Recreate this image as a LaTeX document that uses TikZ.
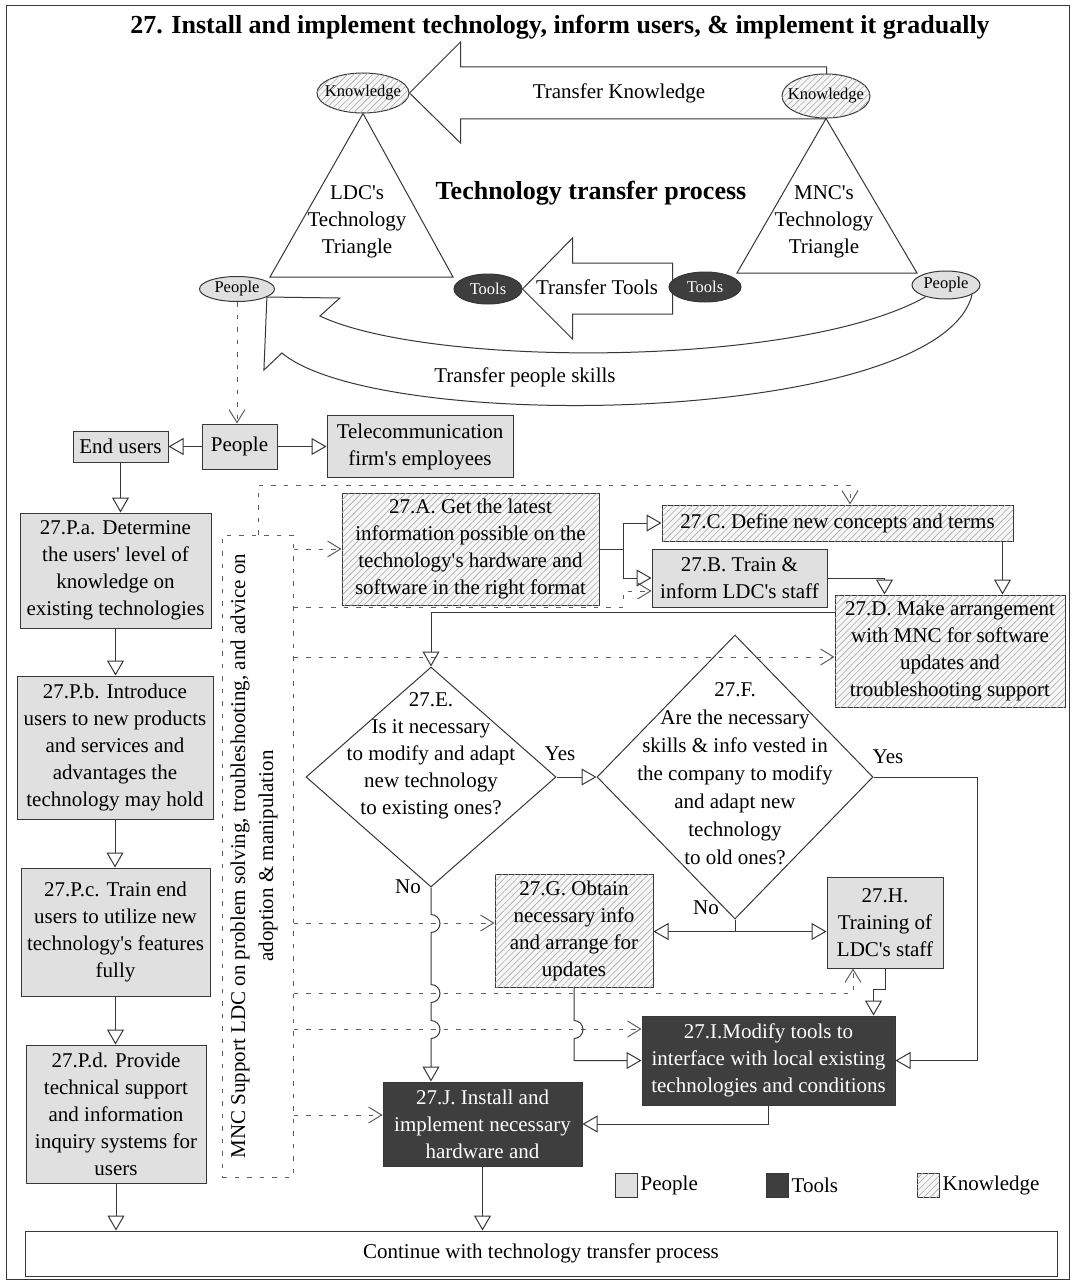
\documentclass[tikz,border=0pt]{standalone}
\usepackage{fontspec}
\setmainfont{Liberation Serif}[Ligatures=TeXOff]
\usetikzlibrary{arrows.meta,shapes.geometric,patterns.meta,calc}
\pgfdeclarelayer{background}
\pgfsetlayers{background,main}

\definecolor{ink}{RGB}{55,55,55}
\definecolor{peoplefill}{RGB}{224,224,224}
\definecolor{toolsfill}{RGB}{62,62,62}
\definecolor{hatchbg}{RGB}{246,246,246}
\definecolor{hatchline}{RGB}{170,170,170}
\definecolor{dashcol}{RGB}{95,95,95}

\tikzset{
  txt/.style={align=center, inner sep=0pt, font=\fontsize{21}{27}\selectfont},
  boxbase/.style={txt, draw=ink, line width=1pt},
  people/.style={boxbase, fill=peoplefill},
  tools/.style={boxbase, fill=toolsfill, text=white},
  hatch/.style={fill=hatchbg, postaction={pattern={Lines[angle=45,distance=4.5pt,line width=0.6pt]}, pattern color=hatchline}},
  knowledge/.style={boxbase, hatch},
  ellbase/.style={ellipse, draw=ink, line width=1pt, inner sep=0pt, font=\fontsize{16.5}{18}\selectfont},
  ellk/.style={ellbase, hatch},
  ellp/.style={ellbase, fill=peoplefill},
  ellt/.style={ellbase, fill=toolsfill, text=white},
  decision/.style={diamond, draw=ink, line width=1pt, inner sep=0pt},
  blk/.style={draw=ink, line width=1pt},
  link/.style={draw=ink, line width=1pt},
  arr/.style={link, -{Triangle[open, length=15pt, width=17pt]}},
  dashline/.style={draw=dashcol, line width=1pt, dash pattern=on 4.5pt off 8pt},
  dasharr/.style={dashline, -{Straight Barb[length=13pt, width=16pt]}},
  dashbox/.style={draw=dashcol, line width=1pt, dash pattern=on 4.5pt off 8pt},
}

\begin{document}
\begin{tikzpicture}[x=1pt,y=-1pt]
\useasboundingbox (0,0) rectangle (1074,1281);
\draw[ink, line width=1pt] (6,6) rectangle (1069,1279);

% ---------- title ----------
\node[txt, font=\bfseries\fontsize{26}{30}\selectfont] (title) at (560,27)
  {27. Install and implement technology, inform users, \& implement it gradually};

% ---------- technology triangles ----------
\node[ellk, minimum width=92pt, minimum height=40pt] (kl) at (363,93) {\makebox[0pt]{Knowledge}};
\node[ellk, minimum width=88pt, minimum height=44pt] (kr) at (826,96) {\makebox[0pt]{Knowledge}};
\node[ellp, minimum width=75pt, minimum height=25pt] (pl) at (237,289) {\makebox[0pt]{People}};
\node[ellp, minimum width=68pt, minimum height=28pt] (pr) at (946,285) {\makebox[0pt]{People}};
\node[ellt, minimum width=68pt, minimum height=30pt] (tl) at (488,289) {\makebox[0pt]{Tools}};
\node[ellt, minimum width=72pt, minimum height=30pt] (tr) at (705,287) {\makebox[0pt]{Tools}};

\node[txt] (ltri) at (357,222) {LDC's\\Technology\\Triangle};
\node[txt] (rtri) at (824,222) {MNC's\\Technology\\Triangle};
\node[txt, font=\bfseries\fontsize{26}{28}\selectfont] (ttp) at (591,193) {Technology transfer process};
\node[txt] (tk) at (619,93) {Transfer Knowledge};
\node[txt] (tt) at (597,287) {Transfer Tools};
\node[txt] (tp) at (525,377) {Transfer people skills};

\begin{pgfonlayer}{background}
  \fill[white] (0,0) rectangle (1074,1281);
  % triangles
  \draw[blk] (kl.south) -- (270,277) -- (453,277) -- cycle;
  \draw[blk] (kr.south) -- (737,273) -- (917,273) -- cycle;
  % knowledge block arrow
  \draw[blk] (kl.east) -- ++(51,-51) -- ++(0,25) -- ++(366,0) -- ++(0,52)
     -- ++(-366,0) -- ++(0,24) -- cycle;
  % tools block arrow
  \draw[blk] (tl.east) -- ++(50,-51) -- ++(0,25) -- ++(100,0) -- ++(0,51)
     -- ++(-100,0) -- ++(0,25) -- cycle;
  % people skills curved arrow
  \draw[blk] (pl.-15) -- ++(73,1) -- ++(-20,18)
     .. controls (430,368) and (800,368) .. (pr.-150);
  \draw[blk] (pl.-15) -- ++(-3,73) -- ++(18,-17)
     .. controls (380,435) and (940,425) .. (pr.-20);
\end{pgfonlayer}

% ---------- people row ----------
\node[people, minimum width=75pt, minimum height=45pt] (pbox) at (239.5,446.5) {People};
\node[people, minimum width=95pt, minimum height=31pt] (eu) at (120.5,446.5) {End users};
\node[people, minimum width=186pt, minimum height=62pt] (tel) at (420,446.5) {Telecommunication\\firm's employees};

% ---------- end user column ----------
\node[people, minimum width=191pt, minimum height=115pt] (pa) at (115.5,570.5)
  {27.P.a. Determine\\the users' level of\\knowledge on\\existing technologies};
\node[people, minimum width=196pt, minimum height=143pt] (pb) at (115,747.5)
  {27.P.b. Introduce\\users to new products\\and services and\\advantages the\\technology may hold};
\node[people, minimum width=189pt, minimum height=128pt] (pc) at (115.5,932)
  {27.P.c. Train end\\users to utilize new\\technology's features\\fully};
\node[people, minimum width=180pt, minimum height=138pt] (pd) at (116,1114)
  {27.P.d. Provide\\technical support\\and information\\inquiry systems for\\users};

% ---------- MNC support ----------
\node[dashbox, minimum width=71pt, minimum height=642pt] (mnc) at (257.5,856) {};
\node[txt, rotate=90, font=\fontsize{21}{28}\selectfont] (mnct) at (254,856)
  {MNC Support LDC on problem solving, troubleshooting, and advice on\\adoption \& manipulation};

% ---------- main flow ----------
\node[knowledge, minimum width=257pt, minimum height=112pt] (abox) at (470.5,549)
  {27.A. Get the latest\\information possible on the\\technology's hardware and\\software in the right format};
\node[knowledge, minimum width=351pt, minimum height=36pt] (cbox) at (837.5,523)
  {27.C. Define new concepts and terms};
\node[people, minimum width=175pt, minimum height=58pt] (bbox) at (739.5,578)
  {27.B. Train \&\\inform LDC's staff};
\node[knowledge, minimum width=230pt, minimum height=112pt] (dbox) at (950,651)
  {27.D. Make arrangement\\with MNC for software\\updates and\\troubleshooting support};

\node[decision, minimum width=250pt, minimum height=220pt] (e) at (431,777) {};
\node[txt] (et) at (431,756) {27.E.\\Is it necessary\\to modify and adapt\\new technology\\to existing ones?};
\node[decision, minimum width=276pt, minimum height=284pt] (f) at (735,777) {};
\node[txt, font=\fontsize{21}{28}\selectfont] (ft) at (735,774)
  {27.F.\\Are the necessary\\skills \& info vested in\\the company to modify\\and adapt new\\technology\\to old ones?};

\node[txt] (eyes) at (560,754) {Yes};
\node[txt] (eno) at (408,887) {No};
\node[txt] (fyes) at (888,757) {Yes};
\node[txt] (fno) at (706,908) {No};

\node[knowledge, minimum width=158pt, minimum height=113pt] (gbox) at (574,930.5)
  {27.G. Obtain\\necessary info\\and arrange for\\updates};
\node[people, minimum width=116pt, minimum height=91pt] (hbox) at (885,922.5)
  {27.H.\\Training of\\LDC's staff};
\node[tools, minimum width=253pt, minimum height=89pt] (ibox) at (768.5,1060.5)
  {27.I.Modify tools to\\interface with local existing\\technologies and conditions};
\node[tools, minimum width=199pt, minimum height=84pt] (jbox) at (482.5,1124)
  {27.J. Install and\\implement necessary\\hardware and};

\node[boxbase, minimum width=1032pt, minimum height=45pt] (cont) at (541,1253.5)
  {Continue with technology transfer process};

% ---------- legend ----------
\node[people, minimum width=22pt, minimum height=24pt] (lgp) at (626,1185) {};
\node[txt, anchor=west] (lgpt) at ($(lgp.east)+(3,0)$) {People};
\node[tools, minimum width=22pt, minimum height=24pt] (lgt) at (777,1185) {};
\node[txt, anchor=west] (lgtt) at ($(lgt.east)+(3,0)$) {Tools};
\node[knowledge, minimum width=22pt, minimum height=24pt] (lgk) at (928,1185) {};
\node[txt, anchor=west] (lgkt) at ($(lgk.east)+(3,0)$) {Knowledge};

% ---------- dashed support links ----------
\draw[dasharr] (pl.south) -- (pl.south |- pbox.north);
\draw[dasharr] (mnc.north -| 258,0) -- (258,485) -- (850,485) -- (cbox.north -| 850,0);
\draw[dasharr] (mnc.east |- abox.west) -- (abox.west);
\draw[dasharr] (mnc.east |- 0,607) -- (623,607) -- (623,591) -- (bbox.west |- 0,591);
\draw[dasharr] (mnc.east |- 0,657) -- (dbox.west |- 0,657);
\draw[dasharr] (mnc.east |- 0,923) -- (gbox.west |- 0,923);
\draw[dasharr] (mnc.east |- 0,993) -- (853,993) -- (hbox.south -| 853,0);
\draw[dasharr] (mnc.east |- 0,1029) -- (ibox.west |- 0,1029);
\draw[dasharr] (mnc.east |- 0,1115) -- (jbox.west |- 0,1115);

% ---------- solid flow links ----------
\draw[arr] (pbox.west) -- (eu.east);
\draw[arr] (pbox.east) -- (tel.west);
\draw[arr] (eu.south) -- (eu.south |- pa.north);
\draw[arr] (pa.south) -- (pa.south |- pb.north);
\draw[arr] (pb.south) -- (pb.south |- pc.north);
\draw[arr] (pc.south) -- (pc.south |- pd.north);
\draw[arr] (pd.south) -- (pd.south |- cont.north);

\draw[arr] (abox.east) -- ++(24,0) |- (cbox.west);
\draw[arr] ($(abox.east)+(24,0)$) |- (bbox.west);
\coordinate (cd) at ($(cbox.south east)+(-11,0)$);
\draw[arr] (cd) -- (cd |- dbox.north);
\draw[arr] (bbox.east) -| ($(dbox.north west)+(50,0)$);
\draw[arr] ($(dbox.north west)+(0,18)$) -| (e.north);

\draw[arr] (e.east) -- (f.west);
\draw[arr] (f.east) -- ++(104,0) |- (ibox.east);
\draw[link] (f.south) -- ++(0,12) coordinate (fj);
\draw[arr] (fj) -- (fj -| gbox.east);
\draw[arr] (fj) -- (fj -| hbox.west);

\draw[arr] (e.south) -- ++(0,27) arc[start angle=-90, end angle=90, radius=9]
  -- ++(0,52) arc[start angle=-90, end angle=90, radius=9]
  -- ++(0,18) arc[start angle=-90, end angle=90, radius=9]
  -- (e.south |- jbox.north);
\draw[arr] (gbox.south) -- ++(0,33) arc[start angle=-90, end angle=90, radius=9] |- (ibox.west);
\draw[arr] (hbox.south) -- ++(0,21) -| ($(ibox.north west)+(232,0)$);
\draw[arr] (ibox.south) |- (jbox.east);
\draw[arr] (jbox.south) -- (jbox.south |- cont.north);
\end{tikzpicture}
\end{document}
